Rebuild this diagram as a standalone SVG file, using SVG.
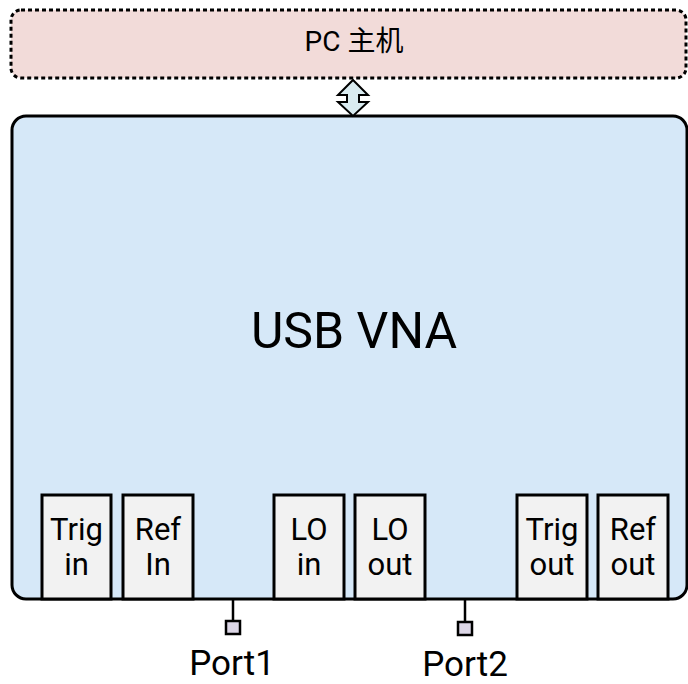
<svg xmlns="http://www.w3.org/2000/svg" width="688" height="684" viewBox="0 0 688 684">
<style>
text{font-family:Roboto,"Noto Sans CJK SC",sans-serif;fill:#000;text-anchor:middle}
.io rect{fill:#f2f2f2;stroke:#000;stroke-width:3}
.io text{font-size:31px}
.port{fill:#dcd6e6;stroke:#000;stroke-width:2.5}
.port-label{font-size:35px}
</style>
<rect width="688" height="684" fill="#fff"/>
<g id="pc">
<rect x="11" y="10" width="675" height="68" rx="10" fill="#f2dbd9" stroke="#000" stroke-width="3" stroke-dasharray="4 3"/>
<text x="354" y="51" font-size="28">PC 主机</text>
</g>
<g id="vna">
<rect x="12" y="116" width="675" height="483" rx="14" fill="#d6e8f8" stroke="#000" stroke-width="3"/>
<text x="354" y="348" font-size="50">USB VNA</text>
</g>
<g id="trig-in" class="io"><rect x="42" y="495" width="69" height="104"/><text x="76.5" y="540">Trig</text><text x="76.5" y="575">in</text></g>
<g id="ref-in" class="io"><rect x="123" y="495" width="70" height="104"/><text x="158" y="540">Ref</text><text x="158" y="575">In</text></g>
<g id="lo-in" class="io"><rect x="274" y="495" width="70" height="104"/><text x="309" y="540">LO</text><text x="309" y="575">in</text></g>
<g id="lo-out" class="io"><rect x="355" y="495" width="70" height="104"/><text x="390" y="540">LO</text><text x="390" y="575">out</text></g>
<g id="trig-out" class="io"><rect x="517" y="495" width="70" height="104"/><text x="552" y="540">Trig</text><text x="552" y="575">out</text></g>
<g id="ref-out" class="io"><rect x="598" y="495" width="70" height="104"/><text x="633" y="540">Ref</text><text x="633" y="575">out</text></g>
<g id="connectors">
<path d="M353 80 L368 95 L359 95 L359 102 L368 102 L353 116 L338 102 L347 102 L347 95 L338 95 Z" fill="#d9ebf0" stroke="#000" stroke-width="2" stroke-linejoin="miter"/>
<line x1="233" y1="600" x2="233" y2="622" stroke="#000" stroke-width="2.5"/>
<line x1="465" y1="600" x2="465" y2="623" stroke="#000" stroke-width="2.5"/>
</g>
<g id="port1"><rect class="port" x="226" y="621" width="14" height="13"/><text class="port-label" x="232" y="675">Port1</text></g>
<g id="port2"><rect class="port" x="458" y="622" width="14" height="13"/><text class="port-label" x="465" y="676">Port2</text></g>
</svg>
